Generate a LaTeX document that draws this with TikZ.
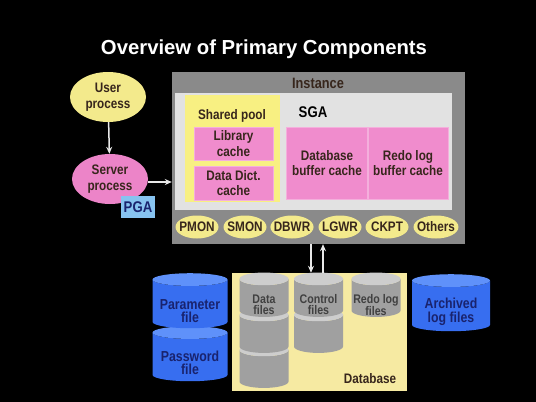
\documentclass[tikz,border=0pt]{standalone}
\usepackage{fontspec}
\setmainfont{Liberation Sans}
\newfontfamily\diagfont[FakeStretch=0.85]{Liberation Sans}
\usetikzlibrary{shapes.geometric, arrows.meta}

\definecolor{paleyellow}{RGB}{243,234,140}
\definecolor{poolyellow}{RGB}{248,240,130}
\definecolor{dbyellow}{RGB}{246,234,162}
\definecolor{cachepink}{RGB}{240,140,205}
\definecolor{serverpink}{RGB}{236,132,200}
\definecolor{pgablue}{RGB}{135,195,240}
\definecolor{instgray}{RGB}{138,138,138}
\definecolor{sgagray}{RGB}{226,226,226}
\definecolor{cylgray}{RGB}{160,160,160}
\definecolor{cyltop}{RGB}{205,205,205}
\definecolor{cylblue}{RGB}{55,110,240}
\definecolor{cylbluetop}{RGB}{95,145,250}
\definecolor{inkdark}{RGB}{55,38,28}
\definecolor{inknavy}{RGB}{25,35,110}
\definecolor{arrowwhite}{RGB}{232,232,232}

\begin{document}
\begin{tikzpicture}[
    x=1pt, y=-1pt,
    % Texto general (letra estrecha, como en la diapositiva)
    every node/.style={font=\diagfont\bfseries\fontsize{13.8}{15.5}\selectfont, text=inkdark, align=center},
    % Procesos (elipses)
    procnode/.style={ellipse, inner sep=0pt, minimum width=76pt, minimum height=50pt},
    bgproc/.style={ellipse, fill=paleyellow, inner sep=-3pt, minimum width=43pt, minimum height=23pt},
    % Cajas de memoria
    membox/.style={rectangle, inner sep=0pt},
    cachebox/.style={rectangle, fill=cachepink, draw=cachepink!70!white, inner sep=0pt},
    % Cilindros de archivos
    graycyl/.style={cylinder, shape border rotate=90, aspect=0.5, cylinder uses custom fill,
        cylinder body fill=cylgray, cylinder end fill=cyltop, inner sep=0pt,
        minimum width=49pt, minimum height=40pt},
    bluecyl/.style={cylinder, shape border rotate=90, aspect=0.5, cylinder uses custom fill,
        cylinder body fill=cylblue, cylinder end fill=cylbluetop, inner sep=0pt,
        minimum width=75pt, minimum height=55pt},
    graytext/.style={font=\diagfont\bfseries\fontsize{12.5}{11}\selectfont, text=black!75},
    bluetext/.style={font=\diagfont\bfseries\fontsize{14.5}{13.5}\selectfont, text=inknavy},
    % Flechas
    flow/.style={draw=arrowwhite, line width=1.5pt, -{Stealth[length=7pt, width=6pt]}}
]

    % Fondo
    \fill[black] (0,0) rectangle (536,402);

    % Titulo
    \node[text=white, font=\bfseries\fontsize{20.3}{24}\selectfont] (title) at (264,49) {Overview of Primary Components};

    % ==========================================
    % PROCESOS DE USUARIO / SERVIDOR
    % ==========================================
    \node[procnode, fill=paleyellow] (userproc) at (108,97) {User\\process};
    \node[procnode, fill=serverpink] (serverproc) at (110,179) {Server\\process};
    \node[membox, fill=pgablue, minimum width=34pt, minimum height=22pt, text=inknavy, font=\diagfont\bfseries\fontsize{15.5}{17}\selectfont] (pga) at (138,207) {PGA};

    % ==========================================
    % INSTANCIA
    % ==========================================
    \node[membox, fill=instgray, minimum width=293pt, minimum height=172pt] (instance) at (318.5,158) {};
    \node[font=\diagfont\bfseries\fontsize{15}{17}\selectfont] (instlabel) at (318,83) {Instance};
    \node[membox, fill=sgagray, minimum width=277pt, minimum height=117pt] (sga) at (313.5,151.5) {};
    \node[font=\diagfont\bfseries\fontsize{15.5}{17}\selectfont, text=black] (sgalabel) at (313,112) {SGA};

    % Shared pool
    \node[membox, fill=poolyellow, minimum width=95pt, minimum height=107pt] (sharedpool) at (232.5,148.5) {};
    \node (poollabel) at (232,116) {Shared pool};
    \node[cachebox, minimum width=79pt, minimum height=33pt] (libcache) at (233.5,143.5) {Library\\cache};
    \node[cachebox, minimum width=79pt, minimum height=34pt] (dictcache) at (233.5,183) {Data Dict.\\cache};

    % Buffers
    \node[cachebox, minimum width=81pt, minimum height=72pt] (dbbuffer) at (327,163) {Database\\buffer cache};
    \node[cachebox, minimum width=80pt, minimum height=72pt] (redobuffer) at (408,163) {Redo log\\buffer cache};

    % Procesos de fondo
    \node[bgproc] (pmon) at (197,227) {PMON};
    \node[bgproc] (smon) at (245,227) {SMON};
    \node[bgproc] (dbwr) at (292,227) {DBWR};
    \node[bgproc] (lgwr) at (340,227) {LGWR};
    \node[bgproc] (ckpt) at (387,227) {CKPT};
    \node[bgproc] (others) at (436,227) {Others};

    % ==========================================
    % BASE DE DATOS
    % ==========================================
    \node[membox, fill=dbyellow, minimum width=175pt, minimum height=118pt] (database) at (319.5,332) {};
    \node (dblabel) at (370,379) {Database};

    % Data files (de abajo hacia arriba)
    \node[graycyl] (datafile3) at (264,369) {\phantom{Data}\\\phantom{files}};
    \node[graycyl] (datafile2) at (264,334) {\phantom{Data}\\\phantom{files}};
    \node[graycyl] (datafile1) at (264,298) {\phantom{Data}\\\phantom{files}};
    \node[graytext] (datatext) at ([yshift=-7pt]datafile1.center) {Data\\files};
    % Control files
    \node[graycyl] (ctrlfile2) at (318.5,334) {\phantom{Data}\\\phantom{files}};
    \node[graycyl] (ctrlfile1) at (318.5,298) {\phantom{Data}\\\phantom{files}};
    \node[graytext] (ctrltext) at ([yshift=-7pt]ctrlfile1.center) {Control\\files};
    % Redo log files
    \node[graycyl] (redofile) at (376,298) {\phantom{Data}\\\phantom{files}};
    \node[graytext] (redotext) at ([yshift=-7pt]redofile.center) {Redo log\\files};

    % Archivos externos
    \node[bluecyl] (pwdfile) at (190,357) {\phantom{Data}\\\phantom{file}};
    \node[graytext, bluetext] (pwdtext) at ([yshift=-6pt]pwdfile.center) {Password\\file};
    \node[bluecyl] (paramfile) at (190,304) {\phantom{Data}\\\phantom{file}};
    \node[graytext, bluetext] (paramtext) at ([yshift=-7pt]paramfile.center) {Parameter\\file};
    \node[bluecyl, minimum width=78pt, minimum height=57pt] (archfile) at (451,306) {\phantom{Data}\\\phantom{file}};
    \node[graytext, bluetext] (archtext) at ([yshift=-6pt]archfile.center) {Archived\\log files};

    % ==========================================
    % FLECHAS
    % ==========================================
    \draw[flow] (userproc) -- (serverproc);
    \draw[flow] ([yshift=-3pt]serverproc.east) -- ([yshift=-3pt]serverproc.east -| instance.west);
    \draw[flow] ([xshift=-7.5pt]instance.south) -- ([xshift=-8.5pt]database.north);
    \draw[flow] ([xshift=3.5pt]database.north) -- ([xshift=4.5pt]instance.south);

\end{tikzpicture}
\end{document}
